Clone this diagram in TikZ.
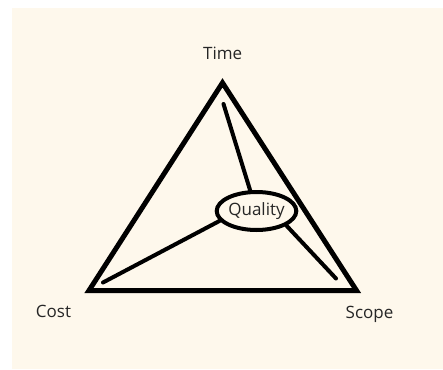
\documentclass[tikz,border=0pt]{standalone}
\usepackage{fontspec}
\setmainfont{Open Sans}
\usetikzlibrary{shapes.geometric}
\definecolor{cream}{HTML}{FEF8EC}
\definecolor{txt}{HTML}{262626}
\begin{document}
\begin{tikzpicture}[x=1pt,y=-1pt,
  lbl/.style={text=txt,font=\fontsize{17}{19}\selectfont,inner sep=0pt},
  tri/.style={line width=5pt,line join=miter},
  spoke/.style={line width=4pt,line cap=round}]
\useasboundingbox (0,0) rectangle (443,369);
\fill[cream] (12,8) rectangle (443,369);
\coordinate (T) at (222.5,82.8);
\coordinate (L) at (89,290.5);
\coordinate (R) at (356.5,290.5);
\draw[tri] (T) -- (L) -- (R) -- cycle;
\node[draw,ellipse,line width=4pt,minimum width=77pt,minimum height=38pt,inner sep=0pt,lbl] (q) at (256.5,211) {Quality};
\coordinate (t1) at (223.5,104);
\coordinate (c1) at (103,282.5);
\coordinate (s1) at (336,278.5);
\draw[spoke] (t1) -- (q);
\draw[spoke] (c1) -- (q.195);
\draw[spoke] (s1) -- (q.334);
\node[lbl] (time) at (222.7,53.5) {Time};
\node[lbl] (cost) at (53.5,311) {Cost};
\node[lbl] (scope) at (369.5,314) {Scope};
\end{tikzpicture}
\end{document}
